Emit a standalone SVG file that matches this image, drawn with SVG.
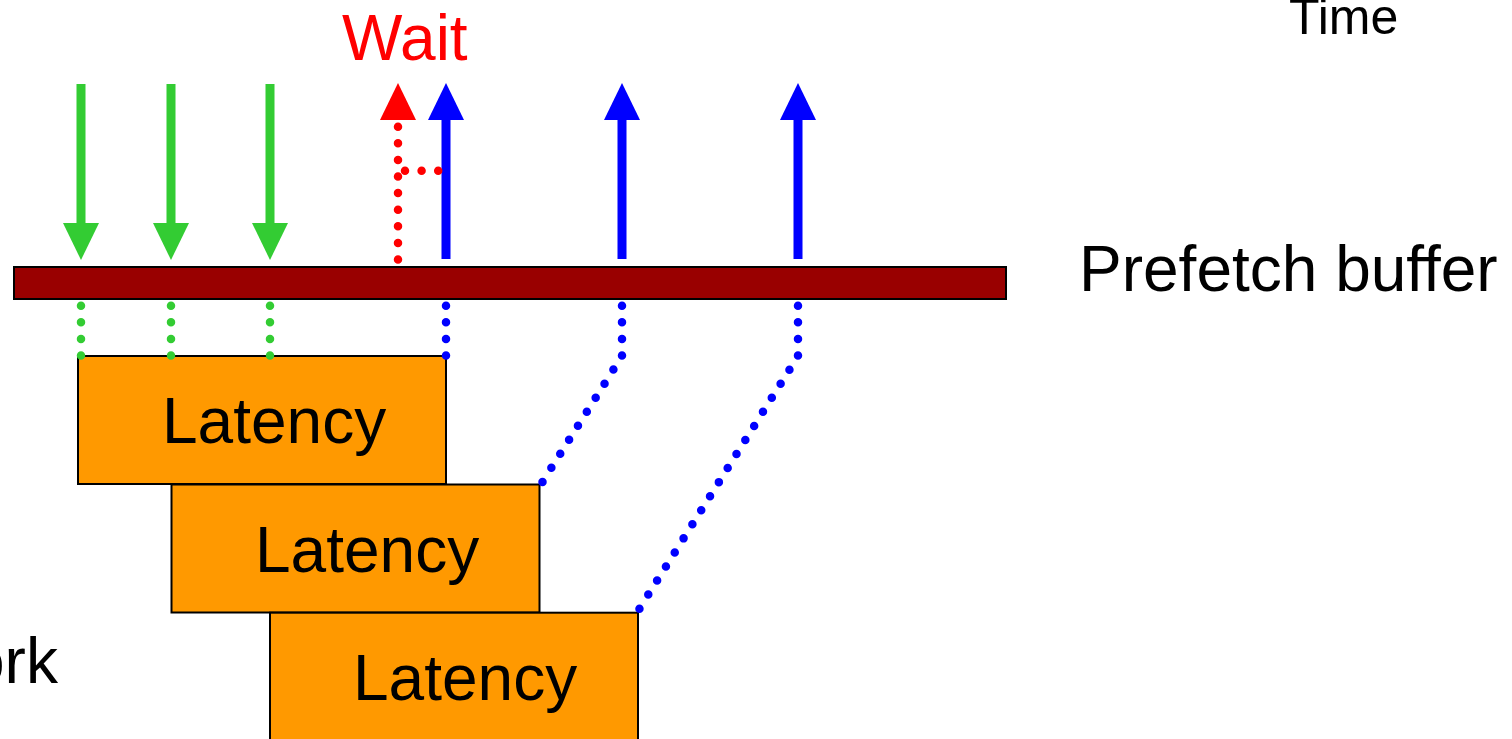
<svg xmlns="http://www.w3.org/2000/svg" width="1512" height="739" viewBox="0 0 1512 739">
<style>
text{font-family:"Liberation Sans",Arial,sans-serif;font-size:64px;fill:#000}
.box{fill:#FF9900;stroke:#000;stroke-width:2}
.gsolid{stroke:#33CC33;stroke-width:9;fill:none}
.bsolid{stroke:#0000FF;stroke-width:9;fill:none}
.dot{fill:none;stroke-width:8.5;stroke-linecap:round;stroke-dasharray:0 16.6}
</style>
<defs>
<marker id="ag" markerUnits="userSpaceOnUse" markerWidth="40" markerHeight="40" refX="0" refY="18" orient="auto" overflow="visible"><path d="M0,0 L37,18 L0,36 z" fill="#33CC33"/></marker>
<marker id="ab" markerUnits="userSpaceOnUse" markerWidth="40" markerHeight="40" refX="0" refY="18" orient="auto" overflow="visible"><path d="M0,0 L37,18 L0,36 z" fill="#0000FF"/></marker>
<marker id="ar" markerUnits="userSpaceOnUse" markerWidth="40" markerHeight="40" refX="0" refY="18" orient="auto" overflow="visible"><path d="M0,0 L37,18 L0,36 z" fill="#FF0000"/></marker>
</defs>
<rect width="1512" height="739" fill="#fff"/>
<g id="labels">
<text x="342" y="60" style="fill:#FF0000">Wait</text>
<text x="1289" y="34" style="font-size:50px">Time</text>
<text x="-31" y="683">ork</text>
</g>
<g id="buffer">
<rect x="14" y="267" width="992" height="32" fill="#990000" stroke="#000" stroke-width="2"/>
<text x="1079" y="291">Prefetch buffer</text>
</g>
<g id="latency1"><rect class="box" x="78" y="356" width="368" height="128"/><text x="162" y="443">Latency</text></g>
<g id="latency2"><rect class="box" x="171.5" y="484.5" width="368" height="128"/><text x="255" y="572">Latency</text></g>
<g id="latency3"><rect class="box" x="270" y="612.7" width="368" height="140"/><text x="353" y="700">Latency</text></g>
<g id="connectors">
<path class="gsolid" d="M81,84 V223" marker-end="url(#ag)"/>
<path class="gsolid" d="M171,84 V223" marker-end="url(#ag)"/>
<path class="gsolid" d="M270,84 V223" marker-end="url(#ag)"/>
<path class="bsolid" d="M446,259 V120" marker-end="url(#ab)"/>
<path class="bsolid" d="M622,259 V120" marker-end="url(#ab)"/>
<path class="bsolid" d="M798,259 V120" marker-end="url(#ab)"/>
<path class="dot" stroke="#FF0000" d="M398,259.5 V120" marker-end="url(#ar)"/>
<path class="dot" stroke="#FF0000" d="M405,170.7 H439"/>
<path class="dot" stroke="#33CC33" d="M81,305.7 V356.5"/>
<path class="dot" stroke="#33CC33" d="M171,305.7 V356.5"/>
<path class="dot" stroke="#33CC33" d="M270,305.7 V356.5"/>
<path class="dot" stroke="#0000FF" d="M446,305.7 V356.5"/>
<path class="dot" stroke="#0000FF" d="M622,305.7 V356 L541.5,483.5"/>
<path class="dot" stroke="#0000FF" d="M798,305.7 V356 L637.5,611.8"/>
</g>
</svg>
